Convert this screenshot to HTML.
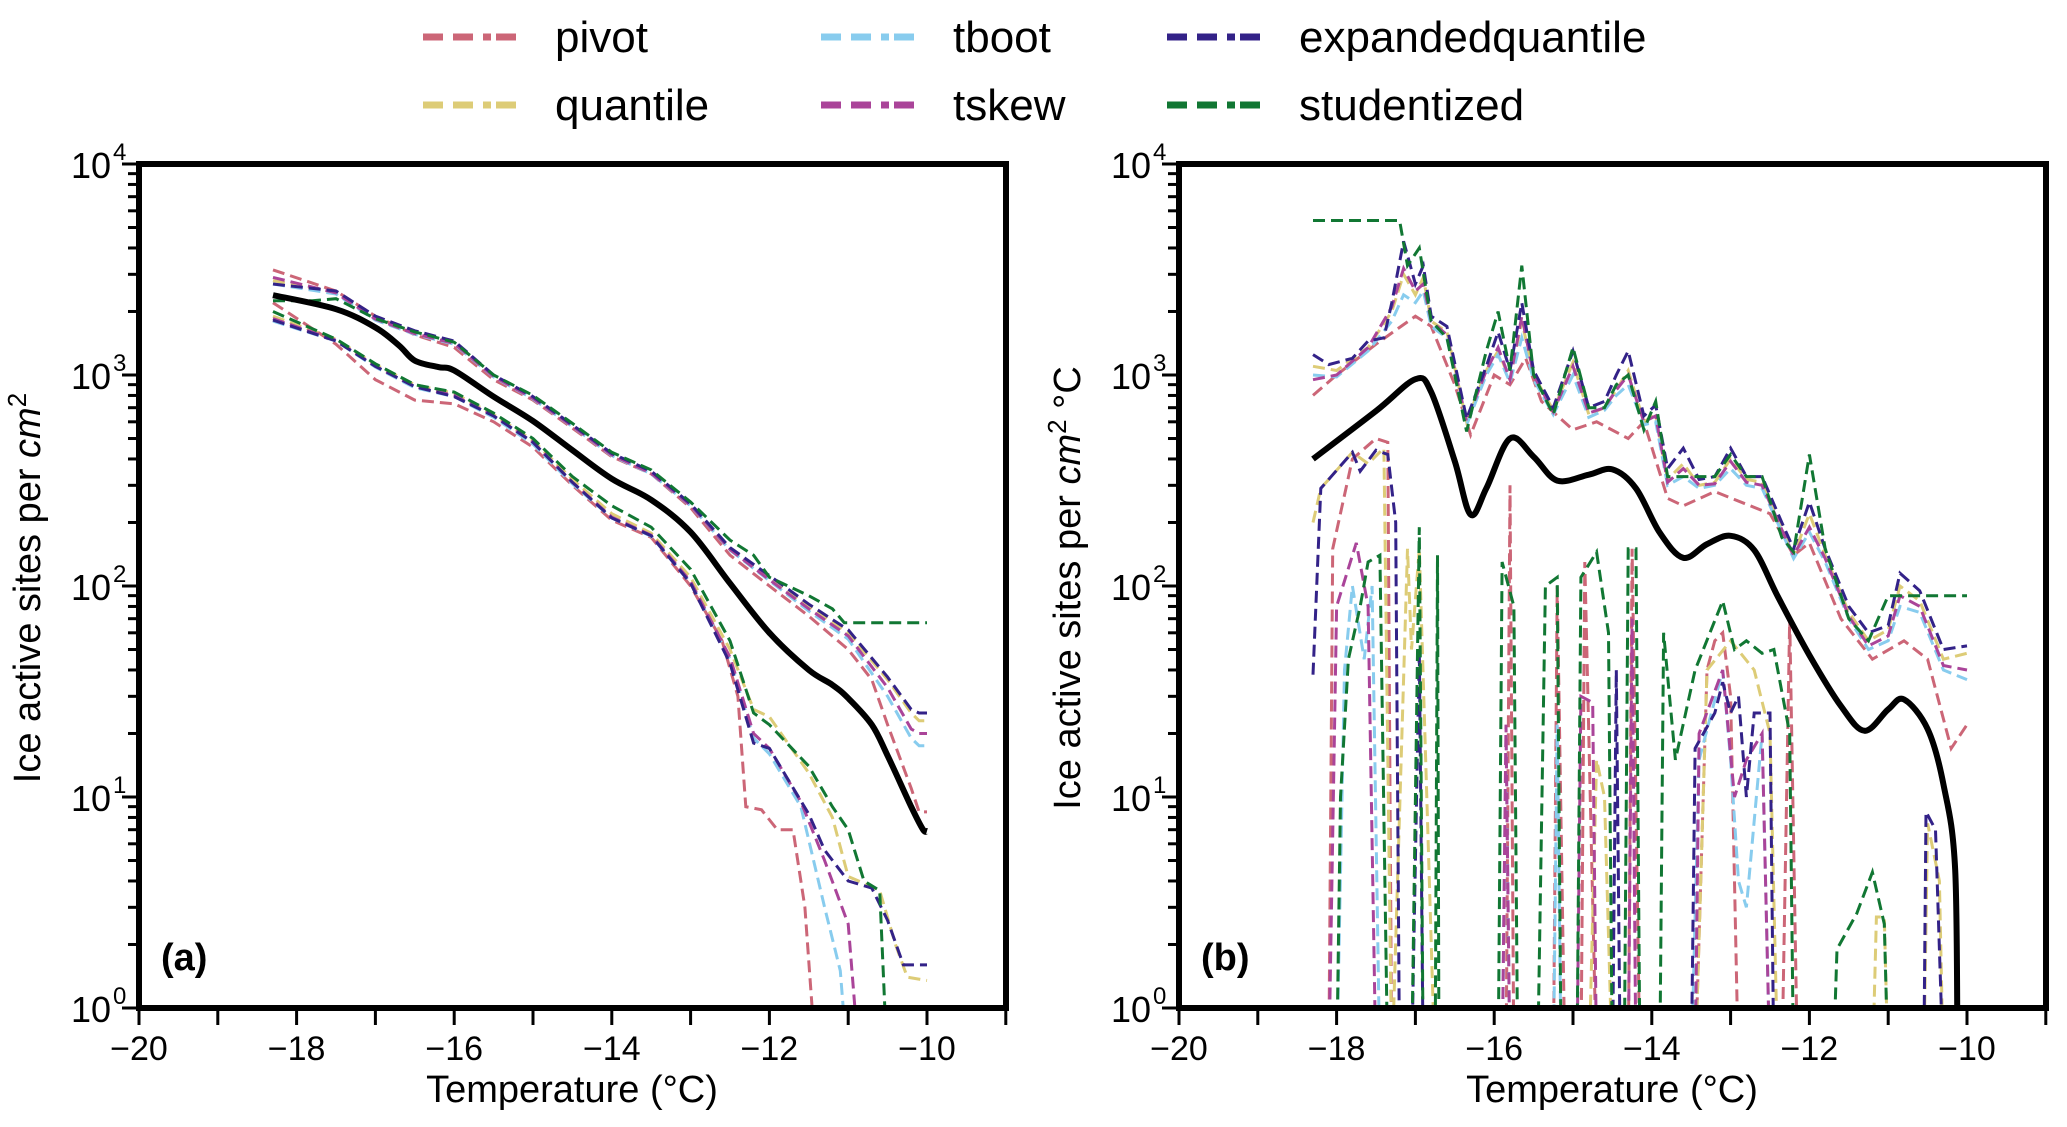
<!DOCTYPE html>
<html><head><meta charset="utf-8"><style>
html,body{margin:0;padding:0;background:#fff;}
svg{display:block;font-family:"Liberation Sans","DejaVu Sans",sans-serif;}
</style></head><body>
<svg id="fig" width="2067" height="1127" viewBox="0 0 2067 1127" xmlns="http://www.w3.org/2000/svg">
<defs>
<clipPath id="clipL"><rect x="139" y="164" width="867" height="844"/></clipPath>
<clipPath id="clipR"><rect x="1179" y="164" width="867" height="844"/></clipPath>
</defs>
<g id="legend"></g>
<g id="panelA"></g>
<g id="panelB"></g>
</svg>
<script>
const methods = ['pivot','quantile','tboot','tskew','expandedquantile','studentized'];
const colors = {pivot:'#CC6677',quantile:'#DDCC77',tboot:'#88CCEE',tskew:'#AA4499',expandedquantile:'#332288',studentized:'#117733'};
const xTicks = [-20,-19,-18,-17,-16,-15,-14,-13,-12,-11,-10,-9];
const xTickLabels = ['−20','','−18','','−16','','−14','','−12','','−10',''];
const yDecades = [0,1,2,3,4];

// Panel (a)
const aMean = [[-18.3,2390],[-17.5,2050],[-17,1680],[-16.7,1380],[-16.5,1170],[-16.2,1090],[-16,1050],[-15.5,790],[-15,605],[-14.5,440],[-14,322],[-13.5,256],[-13,180],[-12.5,103],[-12,60],[-11.5,40],[-11.2,34],[-11,29.4],[-10.7,22],[-10.5,15.7],[-10.2,9],[-10.05,7],[-10,6.9]];
const aPivotUp = [[-18.3,3150],[-17.5,2500],[-17,1900],[-16.5,1550],[-16,1350],[-15.5,950],[-15,760],[-14.5,560],[-14,410],[-13.5,340],[-13,235],[-12.5,140],[-12,100],[-11.5,72],[-11,50],[-10.7,36],[-10.5,22],[-10.2,11],[-10.1,8.5],[-10,8.5]];
const aQuantUp = [[-18.3,2800],[-17.5,2450],[-17,1850],[-16.5,1580],[-16,1420],[-15.5,990],[-15,780],[-14.5,575],[-14,420],[-13.5,345],[-13,242],[-12.5,150],[-12,108],[-11.5,80],[-11,60],[-10.5,36],[-10.2,25],[-10.1,23],[-10,23]];
const aTbootUp = [[-18.3,2700],[-17.5,2420],[-17,1820],[-16.5,1560],[-16,1400],[-15.5,980],[-15,770],[-14.5,570],[-14,415],[-13.5,340],[-13,240],[-12.5,148],[-12,106],[-11.5,76],[-11,56],[-10.5,30],[-10.2,19],[-10.1,17.5],[-10,17.5]];
const aTskewUp = [[-18.3,2900],[-17.5,2450],[-17,1840],[-16.5,1570],[-16,1410],[-15.5,985],[-15,775],[-14.5,572],[-14,418],[-13.5,342],[-13,241],[-12.5,149],[-12,107],[-11.5,78],[-11,58],[-10.5,33],[-10.2,21],[-10.1,20],[-10,20]];
const aExpUp = [[-18.3,2700],[-17.5,2500],[-17,1900],[-16.5,1620],[-16,1450],[-15.5,1000],[-15,790],[-14.5,580],[-14,425],[-13.5,350],[-13,245],[-12.5,152],[-12,112],[-11.5,82],[-11,62],[-10.5,37],[-10.2,26],[-10.1,25],[-10,25]];
const aStudUp = [[-18.3,2250],[-17.8,2250],[-17.5,2300],[-17,1850],[-16.5,1600],[-16,1430],[-15.5,1000],[-15,800],[-14.5,590],[-14,430],[-13.5,355],[-13,250],[-12.5,165],[-12.2,140],[-12,110],[-11.5,90],[-11.2,78],[-11.05,67],[-10,67]];
const aPivotLo = [[-18.3,2200],[-17.5,1400],[-17,950],[-16.5,760],[-16,730],[-15.5,600],[-15,455],[-14.5,300],[-14,205],[-13.5,170],[-13,100],[-12.6,55],[-12.4,30],[-12.3,9],[-12.1,8.7],[-11.9,7],[-11.7,7],[-11.55,3],[-11.4,0.5]];
const aQuantLo = [[-18.3,1900],[-17.5,1480],[-17,1120],[-16.5,900],[-16,820],[-15.5,650],[-15,490],[-14.5,320],[-14,220],[-13.5,178],[-13,110],[-12.5,50],[-12.2,26],[-12,24],[-11.5,13],[-11.2,8],[-11,4.2],[-10.8,3.9],[-10.6,3.6],[-10.4,2],[-10.25,1.4],[-10,1.35]];
const aTbootLo = [[-18.3,1800],[-17.5,1450],[-17,1090],[-16.5,870],[-16,790],[-15.5,630],[-15,470],[-14.5,305],[-14,210],[-13.5,172],[-13,104],[-12.5,45],[-12.2,19],[-12,16],[-11.6,9],[-11.3,3],[-11.1,1.5],[-11,0.5]];
const aTskewLo = [[-18.3,1850],[-17.5,1460],[-17,1100],[-16.5,880],[-16,800],[-15.5,640],[-15,480],[-14.5,310],[-14,212],[-13.5,174],[-13,105],[-12.5,46],[-12.2,20],[-12,17],[-11.6,9.5],[-11.3,5],[-11,2.5],[-10.85,0.5]];
const aExpLo = [[-18.3,1820],[-17.5,1450],[-17,1100],[-16.5,880],[-16,790],[-15.5,640],[-15,480],[-14.5,310],[-14,210],[-13.5,173],[-13,103],[-12.5,43],[-12.2,18],[-12,17],[-11.5,8.3],[-11.3,5.6],[-11,4],[-10.7,3.7],[-10.5,2.6],[-10.3,1.6],[-10,1.6]];
const aStudLo = [[-18.3,2000],[-17.5,1480],[-17,1130],[-16.5,900],[-16,830],[-15.5,660],[-15,500],[-14.5,330],[-14,240],[-13.5,190],[-13,120],[-12.5,55],[-12.2,25],[-12,22],[-11.5,14],[-11.2,9],[-11,7],[-10.8,4],[-10.6,3.6],[-10.5,0.5]];

// Panel (b)
const bMean = [[-18.3,400],[-17.5,675],[-17,955],[-16.8,830],[-16.5,390],[-16.3,218],[-16.1,290],[-15.8,500],[-15.5,410],[-15.2,316],[-14.8,337],[-14.5,357],[-14.2,290],[-13.9,179],[-13.6,136],[-13.3,158],[-13,173],[-12.7,148],[-12.4,89],[-12,47],[-11.6,27],[-11.3,20.6],[-11,26],[-10.8,29],[-10.5,21],[-10.3,11.5],[-10.15,4.5],[-10.12,0.5]];
const bExpUp = [[-18.3,1250],[-18.1,1120],[-17.8,1200],[-17.6,1450],[-17.4,1500],[-17.3,2200],[-17.15,4300],[-17,2700],[-16.9,3300],[-16.8,1900],[-16.6,1700],[-16.35,620],[-16.1,1100],[-15.95,1600],[-15.8,1050],[-15.65,2200],[-15.5,1050],[-15.25,700],[-15,1300],[-14.8,700],[-14.6,750],[-14.45,1000],[-14.3,1300],[-14.1,640],[-13.95,720],[-13.8,360],[-13.6,450],[-13.4,320],[-13.2,330],[-13,450],[-12.8,330],[-12.6,330],[-12.35,200],[-12.2,150],[-12,250],[-11.8,150],[-11.5,80],[-11.25,60],[-11,65],[-10.85,115],[-10.6,95],[-10.3,50],[-10,52]];
const bStudUp = [[-18.3,5400],[-17.2,5400],[-17.1,3300],[-16.95,4000],[-16.8,1800],[-16.6,1500],[-16.35,540],[-16.1,1300],[-15.95,2000],[-15.8,1050],[-15.65,3300],[-15.5,1000],[-15.25,650],[-15,1350],[-14.8,700],[-14.6,700],[-14.45,900],[-14.3,1000],[-14.1,550],[-13.95,750],[-13.8,330],[-13.6,330],[-13.4,330],[-13.2,330],[-13,420],[-12.8,330],[-12.6,330],[-12.35,170],[-12.2,145],[-12,420],[-11.8,150],[-11.5,70],[-11.25,55],[-11,90],[-10,90]];
const bPivotUp = [[-18.3,800],[-18,1000],[-17.5,1400],[-17,1900],[-16.8,1700],[-16.5,900],[-16.3,520],[-16,1000],[-15.8,900],[-15.6,1200],[-15.4,750],[-15,550],[-14.7,600],[-14.3,500],[-14.1,600],[-13.8,260],[-13.6,240],[-13.2,280],[-12.5,220],[-12.2,140],[-12,160],[-11.6,70],[-11.2,45],[-10.8,55],[-10.5,45],[-10.2,17],[-10,22]];
const bQuantUp = [[-18.3,1100],[-18,1050],[-17.6,1350],[-17.3,2000],[-17.15,3000],[-17,2400],[-16.9,2900],[-16.8,1800],[-16.6,1600],[-16.35,600],[-16.1,1050],[-15.95,1300],[-15.8,950],[-15.65,1800],[-15.5,1000],[-15.25,680],[-15,1150],[-14.8,650],[-14.6,700],[-14.45,850],[-14.3,1050],[-14.1,600],[-13.95,650],[-13.8,320],[-13.6,380],[-13.4,300],[-13.2,310],[-13,400],[-12.8,320],[-12.6,310],[-12.35,190],[-12.2,140],[-12,220],[-11.8,140],[-11.5,75],[-11.25,55],[-11,62],[-10.85,100],[-10.6,85],[-10.3,45],[-10,48]];
const bTbootUp = [[-18.3,1000],[-18,980],[-17.6,1300],[-17.3,1800],[-17.15,2400],[-17,2200],[-16.9,2500],[-16.8,1700],[-16.6,1500],[-16.35,580],[-16.1,1000],[-15.95,1250],[-15.8,920],[-15.65,1500],[-15.5,950],[-15.25,650],[-15,1000],[-14.8,630],[-14.6,680],[-14.45,800],[-14.3,900],[-14.1,580],[-13.95,600],[-13.8,300],[-13.6,330],[-13.4,290],[-13.2,300],[-13,360],[-12.8,300],[-12.6,290],[-12.35,180],[-12.2,135],[-12,180],[-11.8,130],[-11.5,70],[-11.25,50],[-11,55],[-10.85,80],[-10.6,75],[-10.3,40],[-10,36]];
const bTskewUp = [[-18.3,950],[-18,1000],[-17.6,1350],[-17.3,2100],[-17.15,3200],[-17,2500],[-16.9,2700],[-16.8,1800],[-16.6,1550],[-16.35,600],[-16.1,1050],[-15.95,1350],[-15.8,950],[-15.65,1900],[-15.5,1000],[-15.25,670],[-15,1100],[-14.8,660],[-14.6,700],[-14.45,850],[-14.3,1000],[-14.1,600],[-13.95,640],[-13.8,310],[-13.6,360],[-13.4,300],[-13.2,305],[-13,390],[-12.8,310],[-12.6,300],[-12.35,185],[-12.2,140],[-12,190],[-11.8,135],[-11.5,72],[-11.25,52],[-11,58],[-10.85,90],[-10.6,80],[-10.3,42],[-10,40]];
const bExpLo = [[-18.3,38],[-18.2,290],[-17.8,430],[-17.7,350],[-17.5,440],[-17.35,420],[-17.25,200],[-17.2,0.5],[-17.05,0.5],[-16.95,50],[-16.9,0.5],[-14.5,0.5],[-14.45,40],[-14.4,0.5],[-13.5,0.5],[-13.45,17],[-13.2,25],[-13.1,35],[-13,25],[-12.9,30],[-12.8,10],[-12.7,25],[-12.5,25],[-12.45,0.5],[-10.55,0.5],[-10.52,8.5],[-10.4,7],[-10.3,0.5]];
const bPivotLo = [[-18.1,0.5],[-18.05,150],[-17.8,400],[-17.5,500],[-17.35,480],[-17.3,0.5],[-15.85,0.5],[-15.8,300],[-15.75,0.5],[-15.25,0.5],[-15.2,100],[-15.1,0.5],[-14.9,0.5],[-14.85,130],[-14.7,0.5],[-14.3,0.5],[-14.25,150],[-14.15,0.5],[-13.45,0.5],[-13.3,40],[-13.2,55],[-13.1,60],[-13,30],[-12.9,0.5],[-12.35,0.5],[-12.25,70],[-12.15,0.5]];
const bTskewLo = [[-18.1,0.5],[-18,80],[-17.75,160],[-17.6,80],[-17.5,0.5],[-15.9,0.5],[-15.85,22],[-15.8,0.5],[-14.95,0.5],[-14.9,30],[-14.75,28],[-14.7,0.5],[-14.3,0.5],[-14.25,70],[-14.2,0.5],[-13.45,0.5],[-13.4,20],[-13.1,40],[-12.95,10],[-12.8,15],[-12.6,20],[-12.5,0.5]];
const bTbootLo = [[-18,0.5],[-17.9,40],[-17.8,100],[-17.65,45],[-17.55,100],[-17.45,0.5],[-15.9,0.5],[-15.85,20],[-15.8,0.5],[-15.25,0.5],[-15.2,22],[-15.15,0.5],[-13.5,0.5],[-13.4,15],[-13.1,40],[-13,15],[-12.9,4],[-12.8,3],[-12.6,20],[-12.5,0.5]];
const bQuantLo = [[-18.3,200],[-18.2,290],[-17.8,430],[-17.6,380],[-17.4,450],[-17.3,0.5],[-17.1,150],[-17.05,50],[-16.95,150],[-16.75,0.5],[-14.8,0.5],[-14.7,15],[-14.6,10],[-14.5,0.5],[-13.45,0.5],[-13.3,40],[-13,55],[-12.7,40],[-12.5,20],[-12.4,0.5],[-11.2,0.5],[-11.15,2.7],[-11.05,2.7],[-11,0.5],[-10.55,0.5],[-10.5,7.5],[-10.35,4],[-10.3,0.5]];
const bStudLo = [[-18,0.5],[-17.95,10],[-17.85,45],[-17.7,80],[-17.6,130],[-17.45,140],[-17.35,0.5],[-17.05,0.5],[-16.95,190],[-16.9,0.5],[-16.75,0.5],[-16.72,140],[-16.7,0.5],[-15.95,0.5],[-15.9,130],[-15.75,80],[-15.7,0.5],[-15.45,0.5],[-15.35,100],[-15.2,110],[-15.15,0.5],[-14.95,0.5],[-14.9,110],[-14.7,145],[-14.55,60],[-14.5,0.5],[-14.35,0.5],[-14.3,150],[-14.2,150],[-14.15,0.5],[-13.9,0.5],[-13.85,60],[-13.7,15],[-13.45,40],[-13.1,85],[-12.95,50],[-12.8,55],[-12.6,48],[-12.45,50],[-12.25,20],[-12.2,0.5],[-11.7,0.5],[-11.65,1.9],[-11.4,2.8],[-11.2,4.4],[-11.05,2.5],[-11,0.5]];

const NS='http://www.w3.org/2000/svg';
const Y0=1008, PERDEC=211, XUNIT=78.8;
function yScale(v){return Y0-Math.log10(v)*PERDEC;}
function mk(tag,attrs,parent){const e=document.createElementNS(NS,tag);for(const k in attrs)e.setAttribute(k,attrs[k]);parent.appendChild(e);return e;}
function smoothPath(p){
  let d='M'+p[0][0].toFixed(1)+','+p[0][1].toFixed(1);
  for(let i=0;i<p.length-1;i++){
    const p0=p[Math.max(i-1,0)],p1=p[i],p2=p[i+1],p3=p[Math.min(i+2,p.length-1)];
    const c1x=p1[0]+(p2[0]-p0[0])/6,c1y=p1[1]+(p2[1]-p0[1])/6;
    const c2x=p2[0]-(p3[0]-p1[0])/6,c2y=p2[1]-(p3[1]-p1[1])/6;
    d+=' C'+c1x.toFixed(1)+','+c1y.toFixed(1)+' '+c2x.toFixed(1)+','+c2y.toFixed(1)+' '+p2[0].toFixed(1)+','+p2[1].toFixed(1);
  }
  return d;
}

function drawPanel(g,left,clipId,panelLetter,series,mean,ytitleX){
  const xs=t=>left+(t+20)*XUNIT;
  const clip=mk('g',{'clip-path':'url(#'+clipId+')'},g);
  
  
  series.forEach(s=>{
    const pts=s.data.map(p=>xs(p[0]).toFixed(1)+','+yScale(p[1]).toFixed(1)).join(' ');
    const pl=mk('polyline',{points:pts,fill:'none',stroke:colors[s.m],'stroke-width':3,'stroke-dasharray':'12,6'},clip);
    
    
  });
  const mpts=mean.map(p=>[xs(p[0]),yScale(p[1])]);
  const ml=mk('path',{d:smoothPath(mpts),fill:'none',stroke:'#000','stroke-width':6,'stroke-linejoin':'round'},clip);
  
  
  const fr=mk('rect',{x:left,y:164,width:867,height:844,fill:'none',stroke:'#000','stroke-width':6},g);
  
  
  xTicks.forEach((t,i)=>{
    const x=xs(t);
    const tk=mk('line',{x1:x,y1:1008,x2:x,y2:1025,stroke:'#000','stroke-width':3},g);
    
    
    if(xTickLabels[i]){
      const tl=mk('text',{x:x,y:1060,'font-size':34,'text-anchor':'middle'},g);
      tl.textContent=xTickLabels[i];
      
      
    }
  });
  yDecades.forEach(d=>{
    const y=yScale(Math.pow(10,d));
    const tk=mk('line',{x1:left-17,y1:y,x2:left,y2:y,stroke:'#000','stroke-width':3},g);
    
    
    const tl=mk('text',{x:left-28,y:y+14,'font-size':36,'text-anchor':'end'},g);
    
    
    tl.textContent='10';
    const sp=mk('text',{x:left-26,y:y-4,'font-size':24,'text-anchor':'start'},g);
    sp.textContent=String(d);
    
    
    if(d<4){for(let m=2;m<=9;m++){
      const ym=yScale(m*Math.pow(10,d));
      const mt=mk('line',{x1:left-11,y1:ym,x2:left,y2:ym,stroke:'#000','stroke-width':3},g);
      
      
    }}
  });
  const xt=mk('text',{x:left+433,y:1102,'font-size':38,'text-anchor':'middle'},g);
  xt.textContent='Temperature (°C)';
  
  
  const cy=588;
  const yt=mk('text',{x:ytitleX,y:cy,'font-size':38,'text-anchor':'middle',transform:'rotate(-90 '+ytitleX+' '+cy+')'},g);
  
  
  yt.innerHTML = panelLetter==='a' ? 'Ice active sites per <tspan font-style="italic">cm</tspan><tspan dy="-14" font-size="26">2</tspan>' : 'Ice active sites per <tspan font-style="italic">cm</tspan><tspan dy="-14" font-size="26">2</tspan><tspan dy="14"> °C</tspan>';
  const pl=mk('text',{x:left+22,y:970,'font-size':38,'font-weight':'bold'},g);
  pl.textContent='('+panelLetter+')';
  
  
}

const seriesA=[
  {m:'pivot',kind:'upper',data:aPivotUp},{m:'pivot',kind:'lower',data:aPivotLo},
  {m:'quantile',kind:'upper',data:aQuantUp},{m:'quantile',kind:'lower',data:aQuantLo},
  {m:'tboot',kind:'upper',data:aTbootUp},{m:'tboot',kind:'lower',data:aTbootLo},
  {m:'tskew',kind:'upper',data:aTskewUp},{m:'tskew',kind:'lower',data:aTskewLo},
  {m:'expandedquantile',kind:'upper',data:aExpUp},{m:'expandedquantile',kind:'lower',data:aExpLo},
  {m:'studentized',kind:'upper',data:aStudUp},{m:'studentized',kind:'lower',data:aStudLo}];
const seriesB=[
  {m:'pivot',kind:'upper',data:bPivotUp},{m:'pivot',kind:'lower',data:bPivotLo},
  {m:'quantile',kind:'upper',data:bQuantUp},{m:'quantile',kind:'lower',data:bQuantLo},
  {m:'tboot',kind:'upper',data:bTbootUp},{m:'tboot',kind:'lower',data:bTbootLo},
  {m:'tskew',kind:'upper',data:bTskewUp},{m:'tskew',kind:'lower',data:bTskewLo},
  {m:'expandedquantile',kind:'upper',data:bExpUp},{m:'expandedquantile',kind:'lower',data:bExpLo},
  {m:'studentized',kind:'upper',data:bStudUp},{m:'studentized',kind:'lower',data:bStudLo}];

drawPanel(document.getElementById('panelA'),139,'clipL','a',seriesA,aMean,40);
drawPanel(document.getElementById('panelB'),1179,'clipR','b',seriesB,bMean,1080);

const lg=document.getElementById('legend');
const legPos=[[423,37],[423,105],[821,37],[821,105],[1167,37],[1167,105]];
['pivot','quantile','tboot','tskew','expandedquantile','studentized'].forEach((m,i)=>{
  const [x,y]=legPos[i];
  const ln=mk('line',{x1:x,y1:y,x2:x+93,y2:y,stroke:colors[m],'stroke-width':7,'stroke-dasharray':'20,10,20,10,8,5'},lg);
  
  
  const t=mk('text',{x:x+132,y:y+15,'font-size':44},lg);
  t.textContent=m;
  
  
});
</script>
</body></html>
